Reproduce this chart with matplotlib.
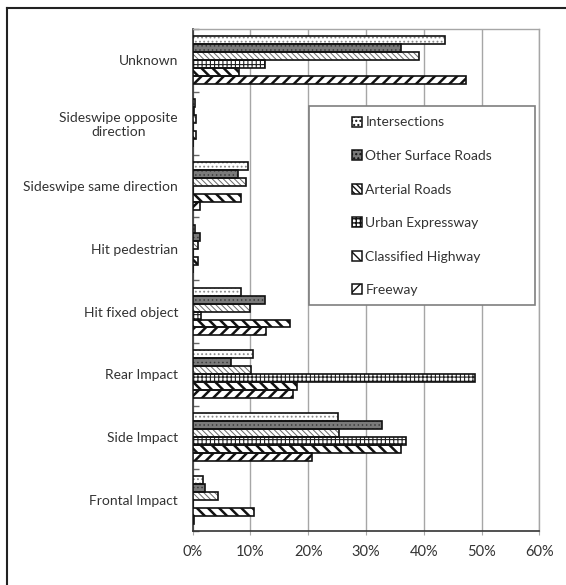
import numpy as np
import matplotlib

matplotlib.use("Agg")
import matplotlib.pyplot as plt
from matplotlib.patches import Patch, Rectangle
from matplotlib.lines import Line2D
from matplotlib.ticker import FixedLocator, PercentFormatter

plt.rcParams["font.family"] = ["Lato", "DejaVu Sans"]

# collision types, bottom to top
categories = [
    "Frontal Impact",
    "Side Impact",
    "Rear Impact",
    "Hit fixed object",
    "Hit pedestrian",
    "Sideswipe same direction",
    "Sideswipe opposite\ndirection",
    "Unknown",
]

# share of crashes (%) per road type, same order as categories
intersections = [1.8, 25.1, 10.4, 8.3, 0.4, 9.6, 0.4, 43.6]
other_surface = [2.1, 32.7, 6.6, 12.6, 1.3, 7.8, 0.3, 36.0]
arterial = [4.4, 25.3, 10.1, 10.0, 0.9, 9.2, 0.6, 39.1]
urban_expressway = [0.0, 37.0, 48.9, 1.4, 0.0, 0.0, 0.0, 12.6]
classified_highway = [10.6, 36.0, 18.1, 16.8, 1.0, 8.4, 0.5, 8.1]
freeway = [0.3, 20.6, 17.4, 12.7, 0.1, 1.3, 0.1, 47.3]

series = [
    ("Intersections", intersections),
    ("Other Surface Roads", other_surface),
    ("Arterial Roads", arterial),
    ("Urban Expressway", urban_expressway),
    ("Classified Highway", classified_highway),
    ("Freeway", freeway),
]

# face colour, hatch, hatch colour, hatch width
styles = [
    ("white", "....", "#8a8a8a", 0.8),
    ("#7a7a7a", "....", "#3c3c3c", 0.6),
    ("white", "\\\\\\\\\\\\", "#6a6a6a", 0.7),
    ("white", "++++", "#202020", 0.8),
    ("white", "\\\\\\", "#111111", 1.8),
    ("white", "///", "#111111", 1.8),
]

W, H = 566, 585
fig = plt.figure(figsize=(W / 100, H / 100), dpi=100)
ax = fig.add_axes([192.7 / W, 1 - 531.3 / H, (539.3 - 192.7) / W, (531.3 - 29) / H])

y = np.arange(len(categories))
h = 0.127
for j, ((name, vals), (fc, hatch, hc, hlw)) in enumerate(zip(series, styles)):
    pos = y + (2.5 - j) * h
    bars = ax.barh(pos, vals, height=h, color=fc, hatch=hatch, edgecolor=hc,
                   linewidth=0, zorder=3)
    for b in bars:
        if hasattr(b, "set_hatch_linewidth"):
            b.set_hatch_linewidth(hlw)
    ax.barh(pos, vals, height=h, fill=False, edgecolor="#111111",
            linewidth=1.2, zorder=4)

ax.set_xlim(0, 60)
ax.set_ylim(-0.5, len(categories) - 0.5)
ax.set_xticks(np.arange(0, 61, 10))
ax.xaxis.set_major_formatter(PercentFormatter(decimals=0))
ax.set_yticks(y)
ax.set_yticklabels(categories, multialignment="center")
ax.yaxis.set_minor_locator(FixedLocator(np.arange(-0.5, len(categories), 1.0)))

ax.tick_params(axis="y", which="major", length=0, pad=10.5, labelsize=10,
               labelcolor="#333333")
ax.tick_params(axis="y", which="minor", direction="in", length=4,
               color="#666666", width=1)
ax.tick_params(axis="x", which="major", direction="out", length=3,
               color="#aaaaaa", pad=7, labelsize=10.5, labelcolor="#333333")

ax.grid(axis="x", color="#a6a6a6", linewidth=1, zorder=0)
ax.set_axisbelow(True)
for side in ("top", "right"):
    ax.spines[side].set_color("#a6a6a6")
    ax.spines[side].set_linewidth(1)
for side in ("left", "bottom"):
    ax.spines[side].set_color("#333333")
    ax.spines[side].set_linewidth(1.2)

# legend: wide box with the entries stacked inside
lx0, ly0, lx1, ly1 = 309.3, 106, 535, 305
fig.patches.append(Rectangle((lx0 / W, 1 - ly1 / H), (lx1 - lx0) / W, (ly1 - ly0) / H,
                             transform=fig.transFigure, facecolor="white",
                             edgecolor="#7f7f7f", linewidth=1.2, zorder=5))
handles = [Patch(facecolor=fc, hatch=hatch, edgecolor="#111111", linewidth=1.1, label=name)
           for (name, _), (fc, hatch, hc, hlw) in zip(series, styles)]
leg = fig.legend(handles=handles, loc="upper left",
                 bbox_to_anchor=(339 / W, 1 - 104 / H), frameon=False,
                 handlelength=0.75, handleheight=0.75, handletextpad=0.25,
                 labelspacing=1.55, fontsize=10)
leg.set_zorder(6)
for t in leg.get_texts():
    t.set_color("#333333")

# outer frame lines
fig.add_artist(Line2D([7 / W, 7 / W], [0, 1 - 8 / H], transform=fig.transFigure,
                      color="#222222", linewidth=1.5))
fig.add_artist(Line2D([7 / W, 1], [1 - 8 / H, 1 - 8 / H], transform=fig.transFigure,
                      color="#222222", linewidth=1.5))

fig.savefig("out.png", dpi=100, facecolor="white")
